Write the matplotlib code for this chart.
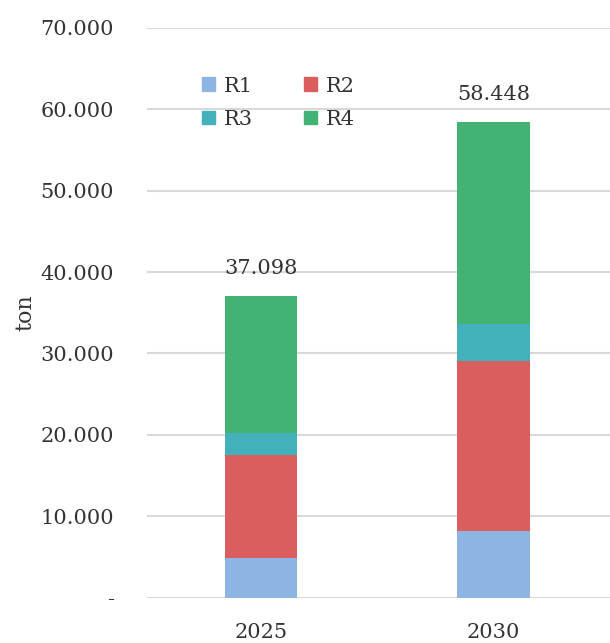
import matplotlib.pyplot as plt
from matplotlib.ticker import FuncFormatter
from matplotlib.patches import Patch

years = ["2025", "2030"]
r1 = [4900, 8200]
r2 = [12600, 20900]
r3 = [2700, 4500]
r4 = [16898, 24848]
totals = [37098, 58448]

series = [("R1", r1, "#8EB4E3"), ("R2", r2, "#DA5E5E"),
          ("R3", r3, "#42B1BC"), ("R4", r4, "#43B374")]

txt = "#333333"
plt.rcParams["font.family"] = ["DejaVu Serif"]

fig = plt.figure(figsize=(6.10, 6.43), dpi=100)
ax = fig.add_axes([0.241, 0.0705, 0.759, 0.8863])

x = list(range(len(years)))
bottom = [0, 0]
for name, vals, col in series:
    ax.bar(x, vals, width=0.312, bottom=bottom, color=col, label=name, zorder=3)
    bottom = [b + v for b, v in zip(bottom, vals)]

for xi, t in zip(x, totals):
    ax.annotate(f"{t:,}".replace(",", "."), (xi, t), xytext=(0, 13),
                textcoords="offset points", ha="center", va="bottom",
                fontsize=15, color=txt)

ax.set_ylim(0, 70000)
ax.set_xlim(-0.49, 1.5)
ax.set_yticks(range(0, 70001, 10000))
ax.yaxis.set_major_formatter(FuncFormatter(
    lambda v, p: "-" if v == 0 else f"{int(v):,}".replace(",", ".")))
ax.set_xticks(x)
ax.set_xticklabels(years)
ax.tick_params(axis="y", length=0, pad=24, labelsize=15, labelcolor=txt)
ax.tick_params(axis="x", length=0, pad=18, labelsize=15, labelcolor=txt)
ax.grid(axis="y", color="#D9D9D9", linewidth=1.5, zorder=0)
for s in ax.spines.values():
    s.set_visible(False)
ax.set_ylabel("ton", fontsize=16, color=txt, labelpad=3)

# legend fills column-wise, so order handles to read R1 R2 / R3 R4 by row
patches = {n: Patch(color=c, label=n) for n, _, c in series}
handles = [patches[n] for n in ("R1", "R3", "R2", "R4")]
ax.legend(handles=handles, ncol=2, loc="upper left",
          bbox_to_anchor=(0.3, 0.91), bbox_transform=fig.transFigure,
          frameon=False, fontsize=15, handlelength=0.65, handleheight=0.65,
          handletextpad=0.4, columnspacing=2.45, labelspacing=0.68,
          labelcolor=txt)

fig.savefig("out.png", dpi=100)
